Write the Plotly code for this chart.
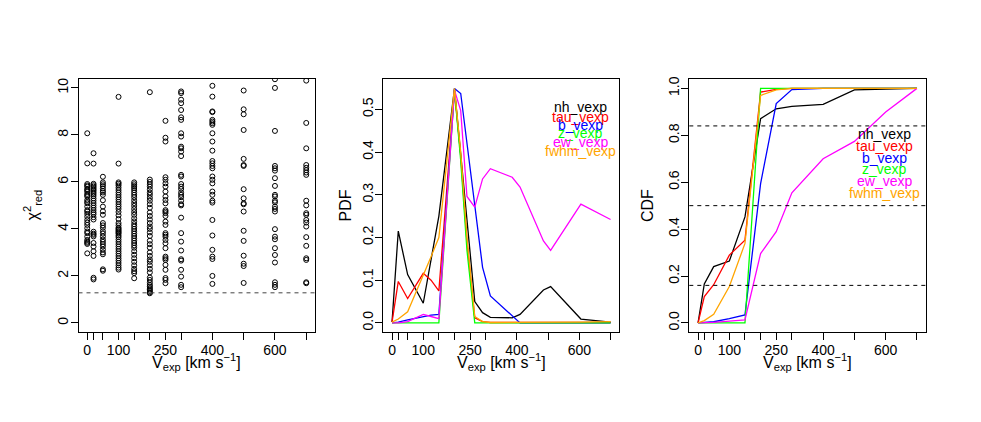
import plotly.graph_objects as go

# ---------------- data ----------------
vexp_grid = [0, 20, 50, 100, 150, 200, 250, 300, 400, 500, 600, 700]
tick_text = ["0", "", "", "100", "", "", "250", "", "400", "", "600", ""]

# chi2_red values per model grid velocity
chi2_by_vexp = {
    0: [8.07, 6.79, 5.91, 5.85, 5.8, 5.7, 5.65, 5.59, 5.49, 5.43, 5.38, 5.23, 5.15, 5.09, 4.95, 4.8,
        4.74, 4.64, 4.52, 4.38, 4.27, 4.17, 4.03, 3.89, 3.82, 3.67, 3.53, 3.46, 3.41, 3.36, 2.96],
    20: [7.22, 6.78, 5.92, 5.86, 5.8, 5.74, 5.68, 5.62, 5.55, 5.48, 5.4, 5.3, 5.2, 5.1, 5.0, 4.9,
         4.8, 4.7, 4.62, 4.5, 4.4, 3.88, 3.8, 3.75, 3.68, 3.4, 3.25, 3.05, 2.85, 1.92, 1.85],
    50: [6.22, 5.98, 5.9, 5.82, 5.72, 5.62, 5.55, 5.45, 5.22, 4.95, 4.75, 4.6, 4.25, 4.15, 4.05,
         3.9, 3.8, 3.68, 3.55, 3.45, 3.35, 3.25, 3.12, 3.0, 2.92, 2.28, 2.22],
    100: [9.62, 6.78, 5.98, 5.92, 5.85, 5.75, 5.65, 5.55, 5.45, 5.35, 5.25, 5.15, 5.05, 4.95, 4.85,
          4.72, 4.58, 4.42, 4.25, 4.15, 4.05, 4.0, 3.95, 3.9, 3.85, 3.8, 3.72, 3.65, 3.55, 3.45,
          3.35, 3.25, 3.15, 3.05, 2.95, 2.85, 2.75, 2.65, 2.55, 2.45, 2.35, 2.27],
    150: [5.98, 5.9, 5.82, 5.74, 5.65, 5.55, 5.45, 5.35, 5.22, 5.1, 4.98, 4.85, 4.72, 4.6, 4.45,
          4.32, 4.2, 4.1, 4.0, 3.9, 3.8, 3.7, 3.6, 3.5, 3.4, 3.3, 3.2, 3.05, 2.9, 2.75, 2.6, 2.45,
          2.3, 2.2, 2.12, 1.9],
    200: [9.82, 6.1, 6.0, 5.9, 5.8, 5.68, 5.55, 5.45, 5.32, 5.2, 5.05, 4.9, 4.7, 4.55, 4.4, 4.25,
          4.1, 4.0, 3.85, 3.7, 3.5, 3.35, 3.2, 3.0, 2.85, 2.7, 2.6, 2.45, 2.3, 2.15, 1.93, 1.83,
          1.72, 1.62, 1.55, 1.48, 1.42, 1.36, 1.3, 1.26],
    250: [8.6, 7.88, 7.72, 6.2, 6.09, 5.94, 5.8, 5.59, 5.38, 5.23, 5.09, 4.8, 4.74, 4.67, 4.55,
          4.31, 4.17, 3.82, 3.75, 3.67, 3.53, 3.39, 3.18, 2.82, 2.75, 2.68, 2.47, 2.26, 1.91, 1.83,
          1.69],
    300: [9.85, 9.78, 9.5, 9.35, 9.06, 8.75, 8.64, 8.07, 7.93, 7.5, 7.43, 7.29, 7.1, 6.3, 6.23,
          5.91, 5.8, 5.7, 5.55, 5.45, 5.35, 5.2, 5.05, 5.0, 4.48, 3.82, 3.46, 3.08, 2.71, 2.65,
          2.26, 1.97, 1.62, 1.52],
    400: [10.09, 9.63, 9.0, 8.97, 8.64, 8.57, 8.5, 8.43, 8.07, 7.72, 7.33, 6.89, 6.79, 6.68, 6.58,
          6.23, 6.09, 5.94, 5.59, 5.45, 5.2, 5.12, 4.38, 3.72, 3.11, 2.82, 2.72, 2.0, 1.66],
    500: [9.89, 9.09, 8.88, 8.21, 6.98, 6.72, 6.68, 5.69, 5.3, 5.09, 5.05, 4.74, 3.92, 3.49, 2.86,
          2.52, 2.42, 1.7],
    600: [10.37, 10.0, 8.17, 6.68, 6.58, 6.48, 6.16, 5.83, 5.45, 5.38, 5.2, 5.13, 4.95, 4.85, 4.74,
          3.99, 3.67, 3.56, 3.18, 2.89, 2.57, 1.73, 1.62, 1.52],
    700: [10.31, 8.51, 7.43, 6.72, 6.6, 6.5, 6.4, 6.3, 5.2, 5.0, 4.67, 4.6, 4.38, 4.27, 4.1, 3.65,
          3.28, 2.75, 2.68, 1.73, 1.69],
}
chi2_threshold = 1.28

series_names = ["nh_vexp", "tau_vexp", "b_vexp", "z_vexp", "ew_vexp", "fwhm_vexp"]
series_colors = ["#000000", "#FF0000", "#0000FF", "#00FF00", "#FF00FF", "#FFA500"]

pdf_x = [0, 20, 50, 100, 125, 150, 200, 220, 240, 265, 290, 315, 385, 410, 485, 508, 605, 700]
pdf_vals = {
    "nh_vexp":   [0.002, 0.215, 0.113, 0.046, 0.148, 0.25, 0.548, 0.39, 0.24, 0.05, 0.024, 0.013,
                  0.012, 0.02, 0.077, 0.085, 0.009, 0.002],
    "tau_vexp":  [0.002, 0.097, 0.057, 0.116, 0.1, 0.075, 0.545, 0.39, 0.19, 0.012, 0.003, 0.001,
                  0.001, 0.001, 0.001, 0.001, 0.001, 0.001],
    "b_vexp":    [0.0, 0.002, 0.007, 0.015, 0.018, 0.02, 0.549, 0.537, 0.42, 0.27, 0.13, 0.063,
                  0.017, 0.0, 0.0, 0.0, 0.0, 0.0],
    "z_vexp":    [0.0, 0.0, 0.0, 0.0, 0.0, 0.0, 0.545, 0.38, 0.17, 0.0, 0.0, 0.0,
                  0.0, 0.0, 0.0, 0.0, 0.0, 0.0],
    "ew_vexp":   [0.0, 0.0, 0.003, 0.02, 0.015, 0.01, 0.545, 0.497, 0.296, 0.271, 0.337, 0.361,
                  0.341, 0.318, 0.192, 0.17, 0.278, 0.242],
    "fwhm_vexp": [0.002, 0.009, 0.026, 0.11, 0.155, 0.2, 0.549, 0.40, 0.2, 0.015, 0.003, 0.001,
                  0.001, 0.001, 0.002, 0.002, 0.002, 0.003],
}

cdf_x = [0, 20, 50, 100, 150, 200, 250, 300, 400, 500, 600, 700]
cdf_vals = {
    "nh_vexp":   [0.0, 0.166, 0.24, 0.264, 0.452, 0.871, 0.913, 0.923, 0.932, 0.994, 0.997, 1.0],
    "tau_vexp":  [0.0, 0.112, 0.163, 0.289, 0.353, 0.984, 0.996, 1.0, 1.0, 1.0, 1.0, 1.0],
    "b_vexp":    [0.0, 0.001, 0.005, 0.018, 0.034, 0.594, 0.935, 0.995, 1.0, 1.0, 1.0, 1.0],
    "z_vexp":    [0.0, 0.0, 0.0, 0.0, 0.0, 1.0, 1.0, 1.0, 1.0, 1.0, 1.0, 1.0],
    "ew_vexp":   [0.0, 0.0, 0.002, 0.008, 0.013, 0.296, 0.389, 0.555, 0.70, 0.774, 0.899, 1.0],
    "fwhm_vexp": [0.0, 0.01, 0.037, 0.155, 0.339, 0.97, 0.994, 1.0, 1.0, 1.0, 1.0, 1.0],
}
cdf_levels = [0.16, 0.5, 0.84]

# ---------------- figure ----------------
PAGE_W, PAGE_H = 981, 422
OFF = 8  # default body margin of the html page
W, H = PAGE_W - 2 * OFF, PAGE_H - 2 * OFF
FONT = "Liberation Sans, Arial, Helvetica, sans-serif"
fig = go.Figure()

sx, sy = [], []
for v, vals in chi2_by_vexp.items():
    sx += [v] * len(vals)
    sy += vals
fig.add_trace(go.Scatter(x=sx, y=sy, mode="markers", xaxis="x", yaxis="y",
                         marker=dict(symbol="circle-open", size=5, color="black",
                                     line=dict(width=1, color="black")),
                         showlegend=False, cliponaxis=True))

for name, col in zip(series_names, series_colors):
    fig.add_trace(go.Scatter(x=pdf_x, y=pdf_vals[name], mode="lines", xaxis="x2", yaxis="y2",
                             line=dict(color=col, width=1.3), showlegend=False))
for name, col in zip(series_names, series_colors):
    fig.add_trace(go.Scatter(x=cdf_x, y=cdf_vals[name], mode="lines", xaxis="x3", yaxis="y3",
                             line=dict(color=col, width=1.3), showlegend=False))

def px2x(p):
    return (p - OFF) / W

def px2y(p):
    return 1 - (p - OFF) / H

doms_x = [(78.5, 315), (383.3, 619.3), (689.3, 925.7)]
dom_y = [px2y(332.3), px2y(79)]

xaxis_common = dict(range=[-28, 728], tickvals=vexp_grid, ticktext=tick_text,
                    showline=True, mirror=True, linecolor="black", linewidth=1,
                    ticks="outside", ticklen=7, tickcolor="black", tickwidth=1,
                    showgrid=False, zeroline=False, automargin=False,
                    ticklabelstandoff=-2,
                    tickfont=dict(family=FONT, size=14, color="black"))
yaxis_common = dict(showline=True, mirror=True, linecolor="black", linewidth=1,
                    ticks="outside", ticklen=7, tickcolor="black", tickwidth=1,
                    showgrid=False, zeroline=False, tickangle=-90, automargin=False,
                    ticklabelstandoff=-3,
                    tickfont=dict(family=FONT, size=14, color="black"))

layout = dict(width=W, height=H, margin=dict(l=0, r=0, t=0, b=0, pad=0, autoexpand=False),
              plot_bgcolor="white", paper_bgcolor="white", showlegend=False)
for i, (a, b) in enumerate(doms_x):
    suf = "" if i == 0 else str(i + 1)
    layout["xaxis" + suf] = dict(xaxis_common, domain=[px2x(a), px2x(b)],
                                 anchor="y" + suf)
layout["yaxis"] = dict(yaxis_common, domain=dom_y, anchor="x", range=[-0.4, 10.38],
                       tickvals=[0, 2, 4, 6, 8, 10])
layout["yaxis2"] = dict(yaxis_common, domain=dom_y, anchor="x2", range=[-0.022, 0.571],
                        tickvals=[0, 0.1, 0.2, 0.3, 0.4, 0.5],
                        ticktext=["0.0", "0.1", "0.2", "0.3", "0.4", "0.5"])
layout["yaxis3"] = dict(yaxis_common, domain=dom_y, anchor="x3", range=[-0.04, 1.04],
                        tickvals=[0, 0.2, 0.4, 0.6, 0.8, 1.0],
                        ticktext=["0.0", "0.2", "0.4", "0.6", "0.8", "1.0"])
fig.update_layout(**layout)

# threshold / level lines
fig.add_shape(type="line", xref="x domain", yref="y", x0=0, x1=1,
              y0=chi2_threshold, y1=chi2_threshold,
              line=dict(color="#444444", width=1, dash="4px,4px"))
for lv in cdf_levels:
    fig.add_shape(type="line", xref="x3 domain", yref="y3", x0=0, x1=1, y0=lv, y1=lv,
                  line=dict(color="black", width=1, dash="4px,4px"))

annos = []
xt = "V<sub>exp</sub> [km s<sup>−1</sup>]"
for a, b in doms_x:
    annos.append(dict(text=xt, x=px2x((a + b) / 2), y=px2y(362), xref="paper", yref="paper",
                      showarrow=False, xanchor="center", yanchor="middle",
                      font=dict(family=FONT, size=16, color="black")))
for txt, xp in [("χ<sup>2</sup><sub>red</sub>", 33), ("PDF", 345), ("CDF", 647.5)]:
    annos.append(dict(text=txt, x=px2x(xp), y=px2y(205.5), xref="paper", yref="paper",
                      showarrow=False, xanchor="center", yanchor="middle", textangle=-90,
                      font=dict(family=FONT, size=16, color="black")))

pdf_leg_y = [106.7, 116.7, 125, 132.7, 141.7, 151]
cdf_leg_y = [134.5, 146, 157.7, 169.3, 181, 192.7]
for name, col, yp in zip(series_names, series_colors, pdf_leg_y):
    annos.append(dict(text=name, x=px2x(580), y=px2y(yp), xref="paper", yref="paper",
                      showarrow=False, xanchor="center", yanchor="middle",
                      font=dict(family=FONT, size=14, color=col)))
for name, col, yp in zip(series_names, series_colors, cdf_leg_y):
    annos.append(dict(text=name, x=px2x(884), y=px2y(yp), xref="paper", yref="paper",
                      showarrow=False, xanchor="center", yanchor="middle",
                      font=dict(family=FONT, size=14, color=col)))
fig.update_layout(annotations=annos)

fig.write_html("out.html")
